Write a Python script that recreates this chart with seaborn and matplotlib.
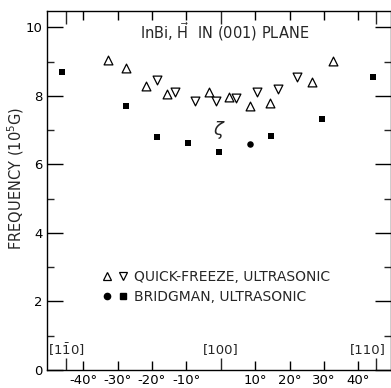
import numpy as np
import pandas as pd
import matplotlib
matplotlib.use("Agg")
import matplotlib.pyplot as plt
import seaborn as sns
from matplotlib.legend_handler import HandlerTuple
from matplotlib.lines import Line2D

# quick-freeze, ultrasonic (open triangles)
up_angle = [-32.8, -27.6, -21.7, -15.6, -3.5, 2.3, 8.6, 14.4, 26.5, 32.6]
up_freq = [9.04, 8.81, 8.30, 8.05, 8.11, 7.96, 7.71, 7.78, 8.42, 9.02]
down_angle = [-18.6, -13.4, -7.5, -1.5, 4.5, 10.6, 16.6, 22.2]
down_freq = [8.48, 8.12, 7.85, 7.86, 7.93, 8.11, 8.19, 8.54]

# bridgman, ultrasonic (filled)
sq_angle = [-46.0, -27.6, -18.5, -9.5, -0.4, 14.5, 29.4, 44.4]
sq_freq = [8.69, 7.71, 6.81, 6.62, 6.37, 6.84, 7.34, 8.55]
dot_angle = [8.6]
dot_freq = [6.60]

xticks = [-40, -30, -20, -10, 10, 20, 30, 40]
xticklabels = ["-40°", "-30°", "-20°", "-10°", "10°", "20°", "30°", "40°"]
dir_ticks = [-45, 0, 45]
dir_labels = ["[1$\\bar{1}$0]", "[100]", "[110]"]

sns.set_theme(style="ticks")
plt.rcParams['font.family'] = ['DejaVu Sans']
plt.rcParams['mathtext.fontset'] = 'dejavusans'

fig = plt.figure(figsize=(3.91, 3.88), dpi=100)
ax = fig.add_axes([47/391, 1 - 370/388, 1 - 47/391, (370 - 11)/388])

sns.scatterplot(x=up_angle, y=up_freq, marker='^', s=40, color='white',
                edgecolor='black', linewidth=0.9, ax=ax)
sns.scatterplot(x=down_angle, y=down_freq, marker='v', s=40, color='white',
                edgecolor='black', linewidth=0.9, ax=ax)
sns.scatterplot(x=sq_angle, y=sq_freq, marker='s', s=20, color='black',
                edgecolor='black', linewidth=0, ax=ax)
sns.scatterplot(x=dot_angle, y=dot_freq, marker='o', s=22, color='black',
                edgecolor='black', linewidth=0, ax=ax)

ax.set_xlim(-50.5, 49.5)
ax.set_ylim(0, 10.48)

ax.set_xticks(xticks)
ax.set_xticklabels(xticklabels)
ax.set_xticks(dir_ticks, minor=True)
ax.set_yticks([0, 2, 4, 6, 8, 10])
ax.set_yticks([1, 3, 5, 7, 9], minor=True)

for s in ax.spines.values():
    s.set_linewidth(1.0)
    s.set_color('black')

ax.tick_params(axis='x', which='major', direction='in', length=6.5, width=1.0,
               top=True, bottom=True, labelsize=9.5, pad=3, colors='black')
ax.tick_params(axis='x', which='minor', direction='in', length=9, width=1.0,
               top=True, bottom=True)
ax.tick_params(axis='y', which='major', direction='in', length=11.5, width=1.0,
               left=True, right=True, labelsize=9.5, pad=3, colors='black')
ax.tick_params(axis='y', which='minor', direction='in', length=5, width=1.0,
               left=True, right=True)

# direction labels above the -45, 0, 45 ticks; last one kept inside the edge
for i, (xv, lab) in enumerate(zip(dir_ticks, dir_labels)):
    if i == len(dir_ticks) - 1:
        ax.annotate(lab, (xv, 0.6), xytext=(7.5, 0), textcoords='offset points',
                    ha='right', va='center', fontsize=9.5)
    else:
        ax.text(xv, 0.6, lab, ha='center', va='center', fontsize=9.5)

ax.text(-0.5, 7.0, "$\\zeta$", ha='center', va='center', fontsize=13)

ax.text(0.516, 0.944, "InBi, $\\vec{\\mathrm{H}}$  IN (001) PLANE", fontsize=10.5,
        ha='center', va='center', transform=ax.transAxes)
ax.set_ylabel("FREQUENCY (10$^5$G)", fontsize=10.5)
ax.yaxis.set_label_coords(-0.062, 0.533)
ax.set_xlabel("")

h_up = Line2D([], [], marker='^', ls='none', mfc='white', mec='black', ms=6.2, mew=0.9)
h_dn = Line2D([], [], marker='v', ls='none', mfc='white', mec='black', ms=6.2, mew=0.9)
h_dot = Line2D([], [], marker='o', ls='none', mfc='black', mec='black', ms=4.5)
h_sq = Line2D([], [], marker='s', ls='none', mfc='black', mec='black', ms=4.3)
ax.legend([(h_up, h_dn), (h_dot, h_sq)],
          ["QUICK-FREEZE, ULTRASONIC", "BRIDGMAN, ULTRASONIC"],
          handler_map={tuple: HandlerTuple(ndivide=None, pad=0.4)},
          loc='upper left', bbox_to_anchor=((101 - 47)/344, (370 - 270)/359),
          frameon=False, fontsize=10, handlelength=2.0, handletextpad=0.4,
          borderpad=0, borderaxespad=0, labelspacing=0.45)

fig.savefig("out.png", dpi=100)
